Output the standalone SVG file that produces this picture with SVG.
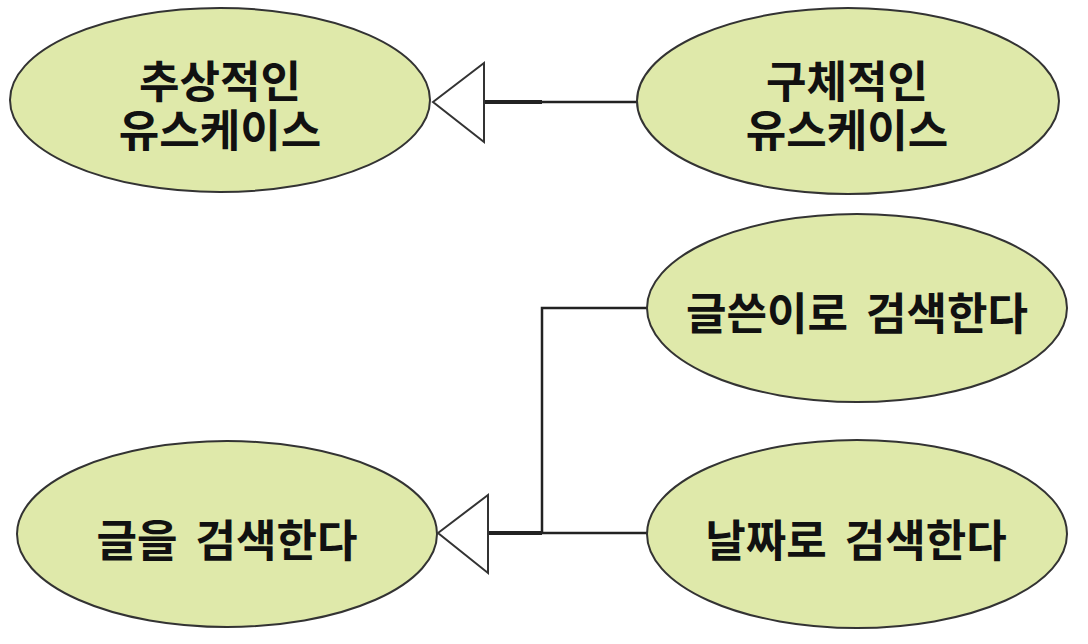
<svg xmlns="http://www.w3.org/2000/svg" width="1088" height="644" viewBox="0 0 1088 644">
  <style>
    .uc { fill: #dfe9aa; stroke: #333333; stroke-width: 2; }
    .lbl { font-family: "Noto Sans CJK KR", "Noto Sans", sans-serif; font-weight: bold; font-size: 44px; fill: #111111; text-anchor: middle; }
    .one { word-spacing: 8px; }
    .ln { fill: none; stroke: #222222; stroke-width: 2.5; }
    .thick { fill: none; stroke: #222222; stroke-width: 4; }
    .head { fill: #ffffff; stroke: #333333; stroke-width: 2; stroke-linejoin: miter; }
  </style>
  <rect width="1088" height="644" fill="#ffffff"/>

  <g id="connectors">
    <line class="ln" x1="484" y1="102" x2="638" y2="102"/>
    <line class="thick" x1="484" y1="102" x2="542" y2="102"/>
    <polygon class="head" points="433,102 484,63 484,142"/>

    <polyline class="ln" points="647,308 542,308 542,533"/>
    <line class="ln" x1="488" y1="533" x2="647" y2="533"/>
    <line class="thick" x1="488" y1="533" x2="542" y2="533"/>
    <polygon class="head" points="438,533 488,495 488,573"/>
  </g>

  <g id="abstract-usecase">
    <ellipse class="uc" cx="220" cy="100" rx="210" ry="92"/>
    <text class="lbl" x="220" y="98">추상적인</text>
    <text class="lbl" x="220" y="147">유스케이스</text>
  </g>

  <g id="concrete-usecase">
    <ellipse class="uc" cx="848" cy="101" rx="211" ry="93"/>
    <text class="lbl" x="847" y="98">구체적인</text>
    <text class="lbl" x="847" y="147">유스케이스</text>
  </g>

  <g id="search-by-author">
    <ellipse class="uc" cx="857" cy="308" rx="210" ry="94"/>
    <text class="lbl one" x="857" y="330">글쓴이로 검색한다</text>
  </g>

  <g id="search-by-date">
    <ellipse class="uc" cx="857" cy="534" rx="210" ry="94"/>
    <text class="lbl one" x="856" y="557">날짜로 검색한다</text>
  </g>

  <g id="search-posts">
    <ellipse class="uc" cx="227" cy="534" rx="210" ry="93"/>
    <text class="lbl one" x="227" y="557">글을 검색한다</text>
  </g>
</svg>
